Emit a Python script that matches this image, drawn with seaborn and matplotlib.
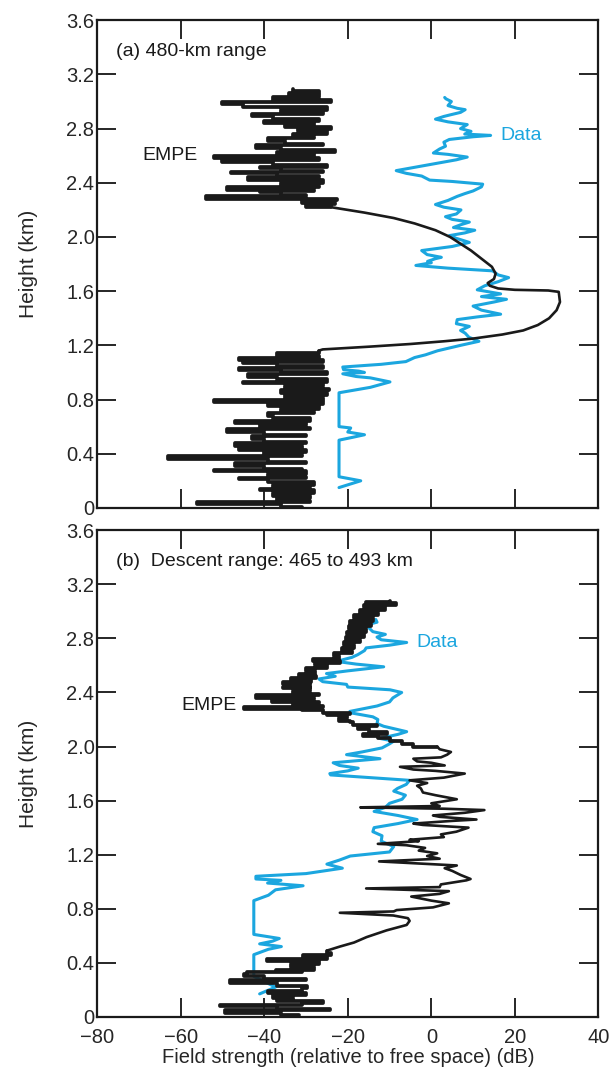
import seaborn as sns
import matplotlib.pyplot as plt
from matplotlib.ticker import FixedLocator

# (a) 480-km range -- EMPE profile, height (km) and field strength (dB)
empe_a_h = [0.01, 0.03, 0.04, 0.05, 0.07, 0.09, 0.11, 0.13, 0.14, 0.15, 0.17, 0.19, 0.21, 0.22, 0.23,
            0.25, 0.27, 0.28, 0.29, 0.31, 0.33, 0.34, 0.36, 0.38, 0.39, 0.41, 0.43, 0.44, 0.46, 0.48,
            0.49, 0.51, 0.53, 0.54, 0.56, 0.58, 0.59, 0.61, 0.63, 0.64, 0.66, 0.68, 0.70, 0.71, 0.73,
            0.75, 0.77, 0.78, 0.80, 0.81, 0.83, 0.85, 0.87, 0.88, 0.90, 0.92, 0.93, 0.95, 0.97, 0.99,
            1.00, 1.02, 1.03, 1.05, 1.07, 1.08, 1.09, 1.11, 1.12, 1.14, 1.16,
            1.17, 1.19, 1.21, 1.23, 1.25, 1.28, 1.31, 1.35, 1.40, 1.46, 1.52, 1.57, 1.595, 1.605,
            1.61, 1.62, 1.64, 1.66, 1.69, 1.73, 1.78, 1.84, 1.90, 1.95, 2.00, 2.05, 2.10, 2.14,
            2.18, 2.21, 2.22,
            2.24, 2.25, 2.27, 2.28, 2.30, 2.31, 2.33, 2.34, 2.35, 2.37, 2.38, 2.40, 2.42, 2.44,
            2.45, 2.47, 2.48, 2.49, 2.51, 2.52, 2.53, 2.55, 2.57, 2.58, 2.60, 2.61, 2.63, 2.64,
            2.66, 2.68, 2.69, 2.71, 2.73, 2.74, 2.76, 2.78, 2.80, 2.81, 2.83, 2.84, 2.86, 2.87,
            2.89, 2.91, 2.92, 2.94, 2.96, 2.98, 3.00, 3.01, 3.03, 3.05, 3.06, 3.08, 3.09]
empe_a_db = [-31, -36, -56, -29, -37, -29, -38, -28, -41, -29, -38, -28, -39, -46, -30,
             -39, -30, -52, -31, -40, -47, -30, -39, -63, -31, -40, -30, -46, -31, -47,
             -30, -40, -43, -30, -40, -49, -29, -41, -30, -47, -29, -38, -39, -28, -36,
             -27, -39, -26, -52, -26, -35, -25, -36, -24.5, -35, -26, -45, -25, -37, -44,
             -25, -36, -46, -26, -37, -45, -26, -46, -27, -37, -27,
             -26, -15, -5, 3, 10, 17, 22, 25.5, 28.2, 30, 30.8, 30.6, 30.5, 28,
             20, 16, 14, 13.5, 15, 15.4, 14.5, 12, 9.5, 7, 4.5, 1, -4, -9,
             -16, -22, -24,
             -30, -23, -31, -22.6, -54, -30, -36, -41, -28, -49, -27, -36, -26, -44,
             -27, -37, -48, -26, -36, -41, -25, -38, -50, -27, -52, -28, -37, -23,
             -36, -42, -26, -35, -39, -28, -33, -25, -32, -24, -35, -28, -40, -27,
             -38, -43, -26, -36, -25, -45, -50, -24, -38, -27, -34, -27, -33]

# (a) measured data
data_a_h = [0.15, 0.20, 0.23, 0.50, 0.52, 0.54, 0.56, 0.59, 0.60, 0.85, 0.89, 0.93, 0.96, 0.97, 0.99,
            1.00, 1.01, 1.02, 1.04, 1.06, 1.08, 1.11, 1.13, 1.16, 1.20, 1.23, 1.26, 1.29, 1.31, 1.34,
            1.36, 1.39, 1.41, 1.43, 1.46, 1.49, 1.52, 1.54, 1.56, 1.58, 1.61, 1.64, 1.67, 1.70, 1.72,
            1.75, 1.77, 1.79, 1.81, 1.82, 1.84, 1.85, 1.87, 1.90, 1.93, 1.96, 1.99, 2.01, 2.03, 2.05,
            2.07, 2.09, 2.11, 2.13, 2.15, 2.17, 2.20, 2.22, 2.24, 2.27, 2.30, 2.32, 2.34, 2.37, 2.39,
            2.41, 2.42, 2.45, 2.47, 2.49, 2.52, 2.55, 2.57, 2.59, 2.61, 2.62, 2.65, 2.67, 2.70, 2.72,
            2.74, 2.75, 2.76, 2.78, 2.80, 2.83, 2.85, 2.87, 2.89, 2.90, 2.92, 2.94, 2.95, 2.97, 3.00,
            3.02, 3.03]
data_a_db = [-22.1, -16.9, -22.1, -22.1, -19, -16.0, -20, -19.3, -22.1, -22.1, -14.6, -9.9, -14.6, -18, -21.2,
             -16, -17.4, -21, -21.2, -12, -6.1, -4, -1.4, 1.5, 7, 11.4, 9, 8.1, 7, 9.1,
             6, 6.2, 11, 16.6, 12, 10.0, 15, 18.0, 12, 16.6, 11, 12.8, 16, 18.5, 16,
             14.7, 4, -3.7, 0, -0.9, 1, 2.4, -1, -2.3, 5, 9.1, 6, 4.3, 8, 10.4,
             5.3, 7, 9.1, 5, 3.4, 6, 7.1, 3, 1.0, 4, 6.2, 8, 10.0, 12, 12.3,
             5, -0.4, -2.3, -6, -8.4, -3, 2.4, 6, 8.6, 4, 0.5, 2, 3.4, 3, 4.3,
             10, 14.2, 8, 9.5, 7, 8.6, 4, 1.0, 3, 4.3, 7, 8.1, 6.2, 4, 4.8,
             3.5, 3.2]

# (b) descent range 465 to 493 km -- EMPE profile
empe_b_h = [0.01, 0.03, 0.05, 0.06, 0.08, 0.09, 0.10, 0.12, 0.13, 0.14, 0.16, 0.18, 0.19, 0.21, 0.23,
            0.25, 0.27, 0.28, 0.30, 0.32, 0.33, 0.34, 0.35, 0.37, 0.39, 0.41, 0.43, 0.44, 0.46, 0.47,
            0.49, 0.52, 0.55, 0.59, 0.64, 0.68, 0.71, 0.73, 0.75, 0.77, 0.78, 0.79, 0.81, 0.84, 0.86,
            0.89, 0.91, 0.93, 0.95, 0.96, 0.98, 1.01, 1.02, 1.05, 1.08, 1.10, 1.12, 1.15, 1.17, 1.19,
            1.21, 1.23, 1.25, 1.27, 1.28, 1.30, 1.31, 1.33, 1.35, 1.37, 1.40, 1.42, 1.43, 1.45, 1.46,
            1.48, 1.49, 1.51, 1.53, 1.54, 1.55, 1.56, 1.58, 1.61, 1.64, 1.66, 1.69, 1.71, 1.73, 1.75,
            1.77, 1.80, 1.82, 1.83, 1.85, 1.86, 1.88, 1.89, 1.91, 1.92, 1.94, 1.96, 1.98, 2.00, 2.02,
            2.04, 2.06, 2.08, 2.09, 2.11, 2.13, 2.15, 2.16, 2.18, 2.19, 2.21, 2.23, 2.24, 2.25, 2.27,
            2.28, 2.29, 2.30, 2.32, 2.33, 2.35, 2.36, 2.38, 2.39, 2.41, 2.43, 2.44, 2.46, 2.48, 2.49,
            2.51, 2.52, 2.54, 2.56, 2.58, 2.60, 2.62, 2.63, 2.65, 2.67, 2.69, 2.71, 2.73, 2.75, 2.77,
            2.79, 2.81, 2.83, 2.85, 2.87, 2.89, 2.91, 2.93, 2.95, 2.97, 2.99, 3.01, 3.03, 3.05, 3.06,
            3.07, 3.08]
empe_b_db = [-31.6, -36, -49.5, -24.3, -37, -50.6, -31, -26, -37, -33, -38, -30, -39, -31, -29.8,
             -37, -48.2, -30, -40, -44.8, -44.2, -31, -37.3, -28, -33.5, -27, -39.4, -25, -30.7, -24,
             -25, -21.9, -18.5, -15.5, -10.7, -5.9, -5.2, -5.6, -9.1, -21.9, -9, -8.3, 0.4, 4.2, 0,
             -4.8, 2, 4.2, -15.6, 2, 2.3, 8.4, 9.4, 7, 5, 3.2, 6.1, -12.5, 2, -1,
             1.4, -3, -1.5, -6, -12.8, -3, -5.2, 3, 2.3, 6, 8.9, -2, -4.3, 5, 10.8,
             2, 0.4, 8, 12.7, 3, -17, 2, 0, 6.1, 1, -2, -2.5, -3.4, -1, -5.2,
             3, 8, 1, -4.3, -7.5, 3.2, 0, -3.4, -4.3, 2.3, 3.8, 4.7, 2, 1.4, -4.3,
             -7, -10, -12.8, -16.4, -10.6, -15, -17.5, -13, -18.7, -19.4, -22, -20.3, -25, -19.5, -26,
             -31, -44.8, -26, -33, -27, -38.2, -28, -42, -27, -33, -29, -35.4, -29, -35.5, -28.8,
             -33.5, -27.5, -31.6, -27.9, -30, -25, -27.9, -21.9, -28.3, -22, -23.2, -19, -21.3, -18.4, -21,
             -17, -20.5, -16, -20.3, -15.6, -19.8, -14.5, -19.5, -14, -18.4, -12.8, -17, -11, -16, -8.5,
             -15.6, -10]

# (b) measured data
data_b_h = [0.17, 0.22, 0.30, 0.46, 0.50, 0.52, 0.54, 0.56, 0.58, 0.61, 0.86, 0.90, 0.94, 0.97, 0.99,
            1.01, 1.02, 1.04, 1.06, 1.10, 1.13, 1.16, 1.19, 1.22, 1.26, 1.30, 1.34, 1.37, 1.40, 1.43,
            1.46, 1.49, 1.52, 1.55, 1.58, 1.61, 1.64, 1.67, 1.69, 1.72, 1.75, 1.79, 1.80, 1.82, 1.84,
            1.86, 1.88, 1.91, 1.94, 1.96, 1.99, 2.02, 2.04, 2.06, 2.09, 2.11, 2.15, 2.17, 2.20, 2.22,
            2.25, 2.26, 2.30, 2.33, 2.36, 2.40, 2.42, 2.44, 2.46, 2.48, 2.50, 2.52, 2.54, 2.56, 2.59,
            2.61, 2.63, 2.66, 2.68, 2.71, 2.73, 2.75, 2.77, 2.79, 2.81, 2.83, 2.85, 2.88, 2.90, 2.92,
            2.94]
data_b_db = [-41.1, -37.3, -42.5, -42.5, -39, -35.9, -41.1, -38, -36.4, -42.5, -42.5, -39, -37.3, -30.7, -39.2,
             -36, -42, -42, -30, -21.3, -25.0, -22, -19.4, -10, -9, -12, -11.8, -14, -13.7, -8,
             -3.4, -8, -13.7, -11, -10, -7, -6.2, -9, -8.1, -6, -5.2, -24.1, -24.3, -20, -17.5,
             -22, -23.5, -12.3, -20.3, -16.6, -11.8, -10, -9, -12.3, -8, -5.9, -11.4, -13, -12.8, -14,
             -19.4, -19.5, -13, -10, -9.2, -7.1, -9.9, -20, -20.3, -26, -26.9, -23, -25.1, -20, -11.4,
             -18, -22.7, -19, -17.6, -16, -15.6, -10, -5.9, -12, -13, -11, -14, -15, -15.6, -13,
             -13.3]

# heights bounding the noisy (dense) parts of each EMPE trace
noisy_a = (1.16, 2.22)
noisy_b = (0.49, 2.00)

x_ticks = [-80, -60, -40, -20, 0, 20, 40]
y_ticks = [0, 0.4, 0.8, 1.2, 1.6, 2.0, 2.4, 2.8, 3.2, 3.6]
y_labels = ['0', '0.4', '0.8', '1.2', '1.6', '2.0', '2.4', '2.8', '3.2', '3.6']

blue = '#1ba6df'
ink = '#1a1a1a'

sns.set_style('white')
plt.rcParams['font.family'] = ['Liberation Sans', 'DejaVu Sans']
plt.rcParams['axes.unicode_minus'] = True

fig = plt.figure(figsize=(6.15, 10.67), dpi=100)
ax_a = fig.add_axes([0.158, 0.524, 0.815, 0.457])
ax_b = fig.add_axes([0.158, 0.047, 0.815, 0.456])

panels = [
    (ax_a, empe_a_db, empe_a_h, data_a_db, data_a_h, noisy_a,
     '(a) 480-km range', -56, 2.60, 16.5, 2.75),
    (ax_b, empe_b_db, empe_b_h, data_b_db, data_b_h, noisy_b,
     '(b)  Descent range: 465 to 493 km', -46.5, 2.30, -3.5, 2.77),
]

for ax, edb, eh, ddb, dh, (lo, hi), title, ex, ey, dx, dy in panels:
    sns.lineplot(x=ddb, y=dh, sort=False, estimator=None, color=blue, linewidth=2.2, ax=ax)

    # dense noisy parts as horizontal steps, smooth middle part as a plain line
    low = [i for i, h in enumerate(eh) if h <= lo]
    mid = [i for i, h in enumerate(eh) if lo <= h <= hi]
    top = [i for i, h in enumerate(eh) if h >= hi]
    for idx, style, lw in [(low, 'steps-post', 2.7), (top, 'steps-post', 2.7), (mid, 'default', 1.9)]:
        sns.lineplot(x=[edb[i] for i in idx], y=[eh[i] for i in idx], sort=False,
                     estimator=None, color=ink, linewidth=lw, drawstyle=style, ax=ax)

    ax.set_xlim(-80, 40)
    ax.set_ylim(0, 3.6)
    ax.xaxis.set_major_locator(FixedLocator(x_ticks))
    ax.set_yticks(y_ticks)
    ax.set_yticklabels(y_labels)
    ax.tick_params(direction='in', length=14, width=1.4, labelsize=14.5,
                   top=True, right=True, bottom=True, left=True)
    ax.tick_params(axis='y', pad=2)
    ax.tick_params(axis='x', pad=8)
    for s in ax.spines.values():
        s.set_linewidth(1.6)
        s.set_color(ink)
    ax.set_ylabel('Height (km)', fontsize=15, labelpad=20)
    ax.text(-75.5, 3.37, title, fontsize=14, va='center', ha='left', color=ink)
    ax.text(ex, ey, 'EMPE', fontsize=14, va='center', ha='right', color=ink)
    ax.text(dx, dy, 'Data', fontsize=14, va='center', ha='left', color=blue)

ax_a.set_xticklabels([])
ax_b.set_xticklabels(['\u221280', '\u221260', '\u221240', '\u221220', '0', '20', '40'])
ax_b.set_xlabel('Field strength (relative to free space) (dB)', fontsize=14.5, labelpad=1)

fig.savefig('out.png', dpi=100)
